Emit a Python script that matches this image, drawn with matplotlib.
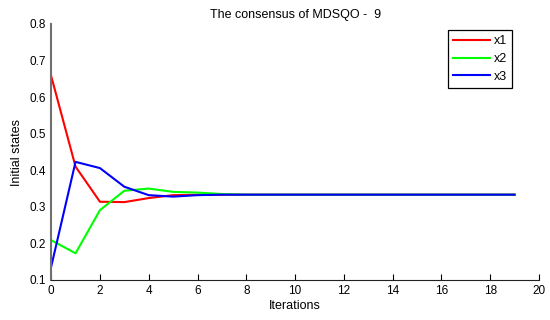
import numpy as np
import matplotlib
matplotlib.use('Agg')
import matplotlib.pyplot as plt

plt.rcParams['font.family'] = ['Liberation Sans', 'DejaVu Sans']

# consensus states per iteration
iters = list(range(20))
x1 = [0.658, 0.410, 0.314, 0.313, 0.324, 0.332, 0.333] + [0.3333] * 13
x2 = [0.209, 0.173, 0.291, 0.344, 0.350, 0.341, 0.339, 0.335] + [0.3333] * 12
x3 = [0.136, 0.423, 0.406, 0.355, 0.332, 0.328, 0.332] + [0.3333] * 13

fig = plt.figure(figsize=(5.5, 3.2), dpi=100)
ax = fig.add_axes([0.093, 0.125, 0.887, 0.80])

ax.plot(iters, x1, color='#ff0000', lw=1.5, label='x1')
ax.plot(iters, x2, color='#00ff00', lw=1.5, label='x2')
ax.plot(iters, x3, color='#0000ff', lw=1.5, label='x3')

ax.set_xlim(0, 20)
ax.set_ylim(0.1, 0.8)
ax.set_xticks(range(0, 21, 2))
ax.set_yticks(np.arange(0.1, 0.81, 0.1))
ax.set_yticklabels(['0.1', '0.2', '0.3', '0.4', '0.5', '0.6', '0.7', '0.8'])
ax.tick_params(direction='in', labelsize=8.5, length=4, width=0.8)
ax.tick_params(axis='y', length=0)
ax.spines['top'].set_visible(False)
ax.spines['right'].set_visible(False)
ax.spines['left'].set_color('#707070')
ax.spines['left'].set_linewidth(1.5)
ax.spines['bottom'].set_color('#222222')

ax.set_title('The consensus of MDSQO -  9', fontsize=9, pad=4)
ax.set_xlabel('Iterations', fontsize=9, labelpad=2)
ax.set_ylabel('Initial states', fontsize=9, labelpad=5)

leg = ax.legend(loc='upper right', bbox_to_anchor=(0.958, 1.0), fontsize=9,
                fancybox=False, edgecolor='black', framealpha=1,
                handlelength=3.0, handletextpad=0.3, borderpad=0.4, labelspacing=0.45)
leg.get_frame().set_linewidth(0.9)

fig.savefig('out.png', dpi=100)
